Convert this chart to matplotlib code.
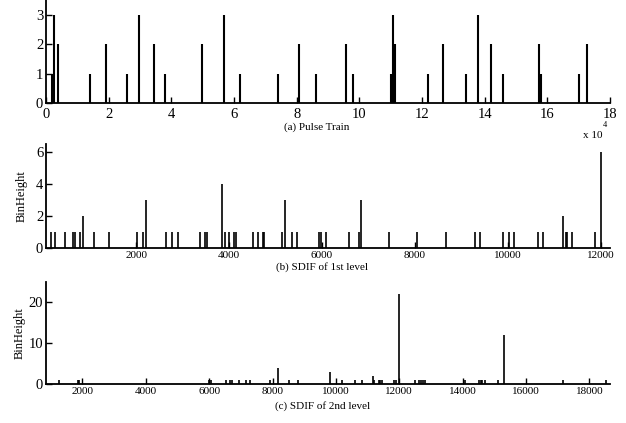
import matplotlib.pyplot as plt

plt.rcParams['font.family'] = ['Liberation Serif', 'DejaVu Serif']

# (a) pulse train: positions (samples) and heights
pulse_t = [1800, 2460, 3740, 13900, 19000, 25700, 29700, 34400, 37900, 49900,
           56800, 62000, 74200, 80700, 86200, 95900, 98000, 110100, 110800, 111300,
           122000, 126600, 133900, 137800, 141900, 146000, 157200, 158100, 170100, 172500]
pulse_h = [1, 3, 2, 1, 2, 1, 3, 2, 1, 2,
           3, 1, 1, 2, 1, 2, 1, 1, 3, 2,
           1, 2, 1, 3, 2, 1, 2, 1, 1, 2]

# (b) SDIF of 1st level
sdif1_x = [157, 250, 472, 645, 680, 788, 860, 1097, 1406, 2016,
           2152, 2210, 2640, 2762, 2891, 3372, 3480, 3516, 3853, 3911,
           4004, 4104, 4141, 4520, 4614, 4735, 4757, 5144, 5209, 5347,
           5454, 5941, 5971, 6085, 6581, 6803, 6833, 7436, 8038, 8669,
           9294, 9408, 9897, 10026, 10127, 10644, 10752, 11189, 11247, 11275,
           11383, 11872, 12007]
sdif1_h = [1, 1, 1, 1, 1, 1, 2, 1, 1, 1,
           1, 3, 1, 1, 1, 1, 1, 1, 4, 1,
           1, 1, 1, 1, 1, 1, 1, 1, 3, 1,
           1, 1, 1, 1, 1, 1, 3, 1, 1, 1,
           1, 1, 1, 1, 1, 1, 1, 2, 1, 1,
           1, 1, 6]

# (c) SDIF of 2nd level
sdif2_x = [1264, 1854, 1896, 6000, 6057, 6530, 6667, 6708, 6951, 7162,
           7299, 7909, 8173, 8531, 8806, 9826, 10205, 10616, 10837, 11175,
           11216, 11365, 11406, 11469, 11848, 11911, 11997, 12480, 12607, 12691,
           12742, 12818, 14070, 14512, 14563, 14596, 14690, 15125, 15315, 17157,
           18515]
sdif2_h = [1, 1, 1, 1, 1, 1, 1, 1, 1, 1,
           1, 1, 4, 1, 1, 3, 1, 1, 1, 2,
           1, 1, 1, 1, 1, 1, 22, 1, 1, 1,
           1, 1, 1, 1, 1, 1, 1, 1, 12, 1,
           1]

fig = plt.figure(figsize=(6.26, 4.23), dpi=100)
W, H = 626, 423


def make_ax(top, bottom):
    ax = fig.add_axes([46 / W, 1 - bottom / H, 564 / W, (bottom - top) / H])
    for s in ['top', 'right']:
        ax.spines[s].set_visible(False)
    for s in ['left', 'bottom']:
        ax.spines[s].set_linewidth(1.3)
    ax.tick_params(direction='in', length=4.5, width=1.0, pad=2)
    return ax


# (a)
ax1 = make_ax(0, 103)
ax1.vlines([t / 1e4 for t in pulse_t], 0, pulse_h, colors='k', lw=1.5)
ax1.set_xlim(0, 18)
ax1.set_ylim(0, 3.5)
ax1.set_xticks(range(0, 19, 2))
ax1.set_yticks([0, 1, 2, 3])
ax1.tick_params(labelsize=10.5)
ax1.tick_params(axis='x', pad=3.5)
fig.text(317 / W, 1 - 127 / H, '(a) Pulse Train', ha='center', va='center', fontsize=8)
fig.text(583 / W, 1 - 136 / H, 'x 10', ha='left', va='center', fontsize=8)
fig.text(603 / W, 1 - 125 / H, '4', ha='left', va='center', fontsize=6)

# (b)
ax2 = make_ax(144, 248)
ax2.vlines(sdif1_x, 0, sdif1_h, colors='k', lw=1.2)
ax2.set_xlim(56, 12200)
ax2.set_ylim(0, 6.5)
ax2.set_xticks([2000, 4000, 6000, 8000, 10000, 12000])
ax2.set_yticks([0, 2, 4, 6])
ax2.tick_params(axis='x', labelsize=8, pad=2.5)
ax2.tick_params(axis='y', labelsize=10.5)
ax2.set_ylabel('BinHeight', fontsize=9, labelpad=6)
fig.text(322 / W, 1 - 267 / H, '(b) SDIF of 1st level', ha='center', va='center', fontsize=8)

# (c)
ax3 = make_ax(282, 384)
ax3.vlines(sdif2_x, 0, sdif2_h, colors='k', lw=1.2)
ax3.set_xlim(850, 18650)
ax3.set_ylim(0, 25)
ax3.set_xticks(range(2000, 18001, 2000))
ax3.set_yticks([0, 10, 20])
ax3.tick_params(axis='x', labelsize=8)
ax3.tick_params(axis='y', labelsize=10.5)
ax3.set_ylabel('BinHeight', fontsize=9, labelpad=2)
fig.text(323 / W, 1 - 406 / H, '(c) SDIF of 2nd level', ha='center', va='center', fontsize=8)

fig.savefig('out.png', dpi=100)
